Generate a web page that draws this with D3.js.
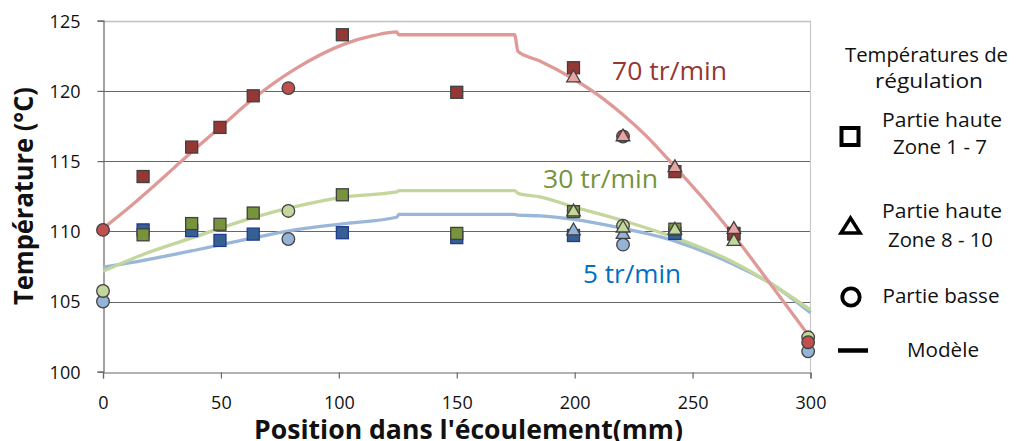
<!DOCTYPE html>
<html><head><meta charset="utf-8">
<script src="https://cdn.jsdelivr.net/npm/d3@7"></script>
<style>body{margin:0;background:#fff}svg{display:block}text{font-family:'Open Sans',sans-serif}</style>
</head><body><svg id="c" width="1021" height="441"></svg>
<script>
// ---------- DATA ----------
const xTicks = [0, 50, 100, 150, 200, 250, 300];
const yTicks = [100, 105, 110, 115, 120, 125];
const seriesNames = ["5 tr/min", "30 tr/min", "70 tr/min"];

// Modèle (model curves)
const model5X  = [0, 17.8, 39, 60.2, 81.4, 102.6, 124.5, 125.5, 174.5, 176, 185.3, 199.4, 220.6, 242.5, 267.3, 283, 300];
const model5T  = [107.45, 107.95, 108.65, 109.4, 110.1, 110.55, 111.0, 111.2, 111.2, 111.15, 111.1, 110.85, 110.2, 109.3, 107.65, 106.3, 104.2];
const model30X = [0, 17.8, 39, 60.2, 81.4, 102.6, 124.5, 125.5, 174.5, 176, 185.3, 199.4, 220.6, 242.5, 267.3, 283, 300];
const model30T = [107.15, 108.4, 109.6, 110.8, 111.75, 112.45, 112.8, 112.9, 112.9, 112.7, 112.45, 111.75, 110.75, 109.55, 107.8, 106.3, 104.4];
const model70X = [0, 10, 20, 30, 40, 50, 63, 81.4, 102.6, 115, 124.5, 125.5, 174.5, 176, 185, 199.5, 210, 220.5, 230, 242.5, 255, 267.5, 283, 300];
const model70T = [110.2, 111.55, 113.0, 114.5, 116.0, 117.45, 119.35, 121.55, 123.35, 123.95, 124.2, 124.0, 124.0, 122.8, 122.15, 120.85, 119.7, 118.3, 116.85, 114.6, 112.25, 109.7, 106.25, 102.4];

// Partie haute Zone 1 - 7 (squares)
const sq5X  = [17, 37.6, 49.6, 63.7, 101.5, 150, 199.5, 242.5];
const sq5T  = [110.1, 110.05, 109.35, 109.8, 109.9, 109.55, 109.7, 109.85];
const sq30X = [17, 37.6, 49.6, 63.7, 101.5, 150, 199.5, 242.5, 267.5];
const sq30T = [109.75, 110.55, 110.5, 111.3, 112.6, 109.85, 111.4, 110.15, 109.8];
const sq70X = [17, 37.6, 49.6, 63.7, 101.5, 150, 199.5, 242.5, 267.5];
const sq70T = [113.9, 116.0, 117.4, 119.65, 124.0, 119.9, 121.65, 114.25, 109.85];

// Partie haute Zone 8 - 10 (triangles)
const tri5X  = [199.5, 220.5];
const tri5T  = [110.1, 109.85];
const tri30X = [199.5, 220.5, 242.5, 267.5];
const tri30T = [111.45, 110.3, 110.15, 109.35];
const tri70X = [199.5, 220.5, 242.5, 267.5];
const tri70T = [121.0, 116.8, 114.6, 110.2];

// Partie basse (circles)
const circ5X  = [0, 78.6, 220.5, 299];
const circ5T  = [105.0, 109.45, 109.05, 101.45];
const circ30X = [0, 78.6, 220.5, 299];
const circ30T = [105.75, 111.45, 110.4, 102.45];
const circ70X = [0, 78.6, 220.5, 299];
const circ70T = [110.1, 120.2, 116.75, 102.1];

const legendTitle = ["Températures de", "régulation"];
const legendLabels = [["Partie haute", "Zone 1 - 7"], ["Partie haute", "Zone 8 - 10"], ["Partie basse"], ["Modèle"]];
const xTitle = "Position dans l'écoulement(mm)";
const yTitle = "Température (°C)";

// ---------- DRAW ----------
const svg = d3.select("#c");
const x = d3.scaleLinear().domain([0, 300]).range([103, 810.5]);
const y = d3.scaleLinear().domain([100, 125]).range([371.7, 20.7]);

const zip = (a, b) => a.map((v, i) => [v, b[i]]);
function fit(sel, w) {
  sel.each(function () {
    const L = this.getComputedTextLength();
    if (Math.abs(L - w) > 1) d3.select(this).attr("textLength", w).attr("lengthAdjust", "spacingAndGlyphs");
  });
}

// gridlines
svg.append("g").selectAll("line").data(yTicks.filter(t => t > 100)).join("line")
  .attr("x1", x(0)).attr("x2", x(300))
  .attr("y1", d => Math.round(y(d)) + 0.5).attr("y2", d => Math.round(y(d)) + 0.5)
  .attr("stroke", d => d === 125 ? "#c0c0c0" : "#666").attr("stroke-width", d => d === 125 ? 1.5 : 1.2);
// right border
svg.append("line").attr("x1", x(300)).attr("x2", x(300)).attr("y1", y(125)).attr("y2", y(100))
  .attr("stroke", "#c8c8c8").attr("stroke-width", 1.2);

// axes
const yAxis = svg.append("g").attr("transform", `translate(${Math.round(x(0)) + 0.5},0)`)
  .call(d3.axisLeft(y).tickValues(yTicks).tickSize(6).tickPadding(17).tickFormat(d3.format("d")));
const xAxis = svg.append("g").attr("transform", `translate(0,${Math.round(y(100)) + 0.5})`)
  .call(d3.axisBottom(x).tickValues(xTicks).tickSize(6).tickFormat(d3.format("d")));
[yAxis, xAxis].forEach(a => {
  a.select(".domain").attr("stroke", "#666").attr("stroke-width", 1.2);
  a.selectAll(".tick line").attr("stroke", "#666").attr("stroke-width", 1.2);
  a.selectAll("text").attr("font-size", 18).attr("fill", "#111").attr("font-family", "'Open Sans',sans-serif");
});
yAxis.selectAll("text").attr("dy", "0.36em");
xAxis.selectAll("text").attr("y", 24).attr("dy", "0.71em");

// models
const line = d3.line().x(d => x(d[0])).y(d => y(d[1])).curve(d3.curveMonotoneX);
const models = [
  { X: model5X, T: model5T, c: "#9ab7da" },
  { X: model30X, T: model30T, c: "#c3d69b" },
  { X: model70X, T: model70T, c: "#df9a98" }
];
svg.append("g").selectAll("path").data(models).join("path")
  .attr("d", d => line(zip(d.X, d.T))).attr("fill", "none")
  .attr("stroke", d => d.c).attr("stroke-width", 3.3).attr("stroke-linejoin", "round");

// markers
const mk = svg.append("g");
const sqSets = [
  { X: sq5X, T: sq5T, f: "#376092", s: "#1f3a8f" },
  { X: sq30X, T: sq30T, f: "#77933c", s: "#404040" },
  { X: sq70X, T: sq70T, f: "#953735", s: "#404040" }
];
sqSets.forEach(s => {
  mk.append("g").selectAll("rect").data(zip(s.X, s.T)).join("rect")
    .attr("x", d => x(d[0]) - 6).attr("y", d => y(d[1]) - 6).attr("width", 12).attr("height", 12)
    .attr("fill", s.f).attr("stroke", s.s).attr("stroke-width", 1.3);
});
const circSets = [
  { X: circ5X, T: circ5T, f: "#95b3d7" },
  { X: circ30X, T: circ30T, f: "#c3d69b" },
  { X: circ70X, T: circ70T, f: "#c0504d" }
];
circSets.forEach(s => {
  mk.append("g").selectAll("circle").data(zip(s.X, s.T)).join("circle")
    .attr("cx", d => x(d[0])).attr("cy", d => y(d[1])).attr("r", 6.3)
    .attr("fill", s.f).attr("stroke", "#404040").attr("stroke-width", 1.3);
});
const triSets = [
  { X: tri5X, T: tri5T, f: "#95b3d7" },
  { X: tri30X, T: tri30T, f: "#c3d69b" },
  { X: tri70X, T: tri70T, f: "#e6a6a4" }
];
const triPath = d3.symbol().type(d3.symbolTriangle).size(80);
triSets.forEach(s => {
  mk.append("g").selectAll("path").data(zip(s.X, s.T)).join("path")
    .attr("d", triPath).attr("transform", d => `translate(${x(d[0])},${y(d[1]) + 1})`)
    .attr("fill", s.f).attr("stroke", "#404040").attr("stroke-width", 1.3);
});

// series labels
const labelPos = [
  { x: 583, y: 283, w: 98, c: "#0070c0" },
  { x: 543, y: 188, w: 115, c: "#77933c" },
  { x: 612, y: 80, w: 115, c: "#953735" }
];
seriesNames.forEach((n, i) => {
  const p = labelPos[i];
  svg.append("text").attr("x", p.x).attr("y", p.y).attr("font-size", 25).attr("fill", p.c).text(n)
    .call(fit, p.w);
});

// axis titles
svg.append("text").attr("x", 254).attr("y", 439).attr("font-size", 27).attr("font-weight", "bold")
  .attr("fill", "#111").text(xTitle).call(fit, 429);
svg.append("text").attr("transform", "translate(33,305) rotate(-90)").attr("font-size", 26)
  .attr("font-weight", "bold").attr("fill", "#111").text(yTitle).call(fit, 218);

// legend
const lg = svg.append("g").attr("fill", "#111");
[[926.5, 62, 163], [929, 88, 108]].forEach((p, i) => {
  lg.append("text").attr("x", p[0]).attr("y", p[1]).attr("text-anchor", "middle").attr("font-size", 20)
    .text(legendTitle[i]).call(fit, p[2]);
});
const legRows = [
  [[942, 127, 120], [940, 154, 94]],
  [[942, 218, 120], [940.5, 247, 105]],
  [[941, 303, 117]],
  [[943, 357, 72]]
];
legendLabels.forEach((lines, i) => {
  lines.forEach((t, j) => {
    const p = legRows[i][j];
    lg.append("text").attr("x", p[0]).attr("y", p[1]).attr("text-anchor", "middle").attr("font-size", 20)
      .text(t).call(fit, p[2]);
  });
});
lg.append("rect").attr("x", 841.5).attr("y", 128).attr("width", 17).attr("height", 17)
  .attr("fill", "none").attr("stroke", "#000").attr("stroke-width", 4);
lg.append("path").attr("d", "M841,233 L860,233 L850.5,218 Z")
  .attr("fill", "none").attr("stroke", "#000").attr("stroke-width", 3.5).attr("stroke-linejoin", "miter");
lg.append("circle").attr("cx", 851).attr("cy", 297).attr("r", 8.7)
  .attr("fill", "none").attr("stroke", "#000").attr("stroke-width", 3.8);
lg.append("line").attr("x1", 838).attr("x2", 868).attr("y1", 350.5).attr("y2", 350.5)
  .attr("stroke", "#000").attr("stroke-width", 4.5);
</script></body></html>
